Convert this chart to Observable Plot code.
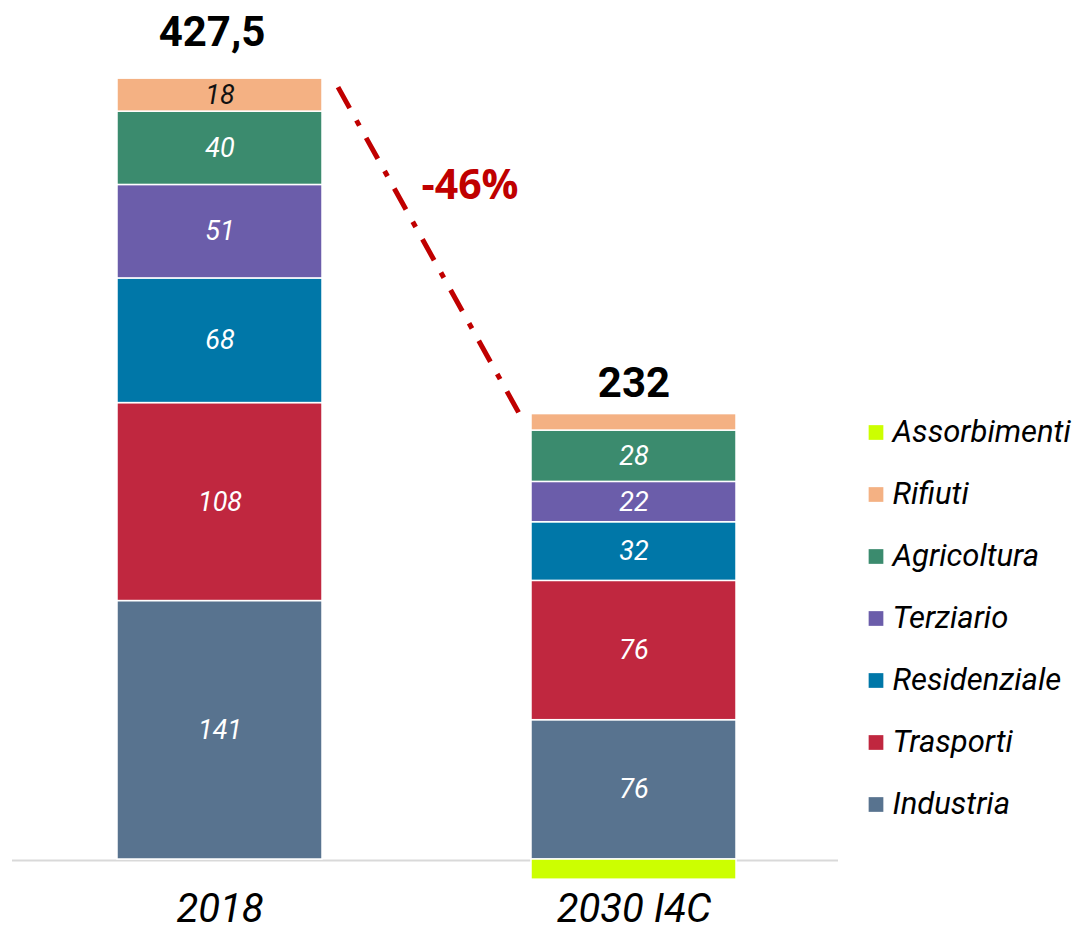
<!DOCTYPE html>
<html>
<head>
<meta charset="utf-8">
<script src="https://cdn.jsdelivr.net/npm/d3@7"></script>
<script src="https://cdn.jsdelivr.net/npm/@observablehq/plot@0.6"></script>
<style>
  html, body { margin: 0; padding: 0; background: white; }
  #wrap { position: relative; width: 1082px; height: 931px; font-family: Roboto, sans-serif; }
  #legend { position: absolute; left: 860px; top: 400px; }
</style>
</head>
<body>
<div id="wrap"><div id="legend"></div></div>
<script>
const years = ["2018", "2030 I4C"];
const sectors = ["Industria", "Trasporti", "Residenziale", "Terziario", "Agricoltura", "Rifiuti", "Assorbimenti"];
const colors = ["#58738F", "#C0273F", "#0077A8", "#6B5DAA", "#3B8B6E", "#F4B183", "#CCFF00"];
const values2018 = [141, 108, 68, 51, 40, 18, 0];
const values2030 = [76, 76, 32, 22, 28, 9, -11];
const labels2018 = ["141", "108", "68", "51", "40", "18", ""];
const labels2030 = ["76", "76", "32", "22", "28", "", ""];
const totalLabels = ["427,5", "232"];
const changeLabel = "-46%";

const rows = [];
[values2018, values2030].forEach((vals, yi) => {
  const labs = yi === 0 ? labels2018 : labels2030;
  vals.forEach((v, si) => {
    if (v !== 0) rows.push({year: years[yi], sector: sectors[si], value: v, label: labs[si]});
  });
});
const totals = years.map((y, i) => ({
  year: y,
  top: d3.sum(rows.filter(r => r.year === y && r.value > 0), r => r.value),
  label: totalLabels[i]
}));

const colorScale = {domain: sectors, range: colors};
const font = "Roboto, sans-serif";

const chart = Plot.plot({
  width: 1082,
  height: 931,
  marginTop: 0,
  marginLeft: 12,
  marginRight: 244,
  marginBottom: 51,
  x: {domain: years, range: [117, 736], paddingInner: 0.505, paddingOuter: 0, axis: null},
  y: {domain: [0, 400], range: [859, 859 - 733.2], axis: null},
  color: colorScale,
  style: {fontFamily: font, background: "white", overflow: "visible"},
  marks: [
    Plot.ruleY([0], {stroke: "#D9D9D9", strokeWidth: 2, dy: 1}),
    Plot.barY(rows, {x: "year", y: "value", fill: "sector", stroke: "white", strokeWidth: 1.5}),
    Plot.text(rows, Plot.stackY({
      x: "year", y: "value", z: "sector",
      text: d => d.sector === "Rifiuti" ? "" : d.label,
      fill: "white", fontSize: 27, fontStyle: "italic"
    })),
    Plot.text(rows, Plot.stackY({
      x: "year", y: "value", z: "sector",
      text: d => d.sector === "Rifiuti" ? d.label : "",
      fill: "#111", fontSize: 27, fontStyle: "italic"
    })),
    Plot.text(totals.slice(0, 1), {x: "year", y: "top", text: "label", lineAnchor: "bottom", dx: -8, dy: -33, fontSize: 42, fontWeight: "bold", fill: "black"}),
    Plot.text(totals.slice(1), {x: "year", y: "top", text: "label", lineAnchor: "bottom", dy: -17, fontSize: 42, fontWeight: "bold", fill: "black"}),
    Plot.link([{a: years[0], b: years[1], y1: totals[0].top, y2: totals[1].top}], {
      x1: "a", x2: "b", y1: "y1", y2: "y2",
      render(index, scales, values) {
        const bw = scales.x.bandwidth();
        const g = d3.create("svg:g");
        for (const i of index) {
          g.append("line")
            .attr("x1", values.x1[i] + bw + 16)
            .attr("y1", values.y1[i] + 9)
            .attr("x2", values.x2[i] - 9)
            .attr("y2", values.y2[i] + 5)
            .attr("stroke", "#C00000")
            .attr("stroke-width", 5)
            .attr("stroke-dasharray", "24,14,6,14");
        }
        return g.node();
      }
    }),
    Plot.text([changeLabel], {x: () => years[0], y: () => totals[0].top, text: d => d, dx: 250, dy: 120, lineAnchor: "bottom",
      fontSize: 41, fontWeight: "bold", fill: "#C00000", fontFamily: "'Open Sans', sans-serif"}),
    Plot.axisX({tickSize: 0, tickPadding: 13, fontSize: 40, fontStyle: "italic", label: null, fill: "black"})
  ]
});
document.getElementById("wrap").prepend(chart);

const legendOrder = sectors.slice().reverse();
const legend = Plot.plot({
  width: 222,
  height: 440,
  margin: 0,
  x: {domain: [0, 1], axis: null},
  y: {type: "point", domain: legendOrder, range: [29, 406], padding: 0, axis: null},
  color: colorScale,
  style: {fontFamily: font, background: "transparent", overflow: "visible"},
  marks: [
    Plot.dot(legendOrder, {y: d => d, frameAnchor: "left", dx: 15.5, symbol: "square", r: 8.3, fill: d => d}),
    Plot.text(legendOrder, {y: d => d, frameAnchor: "left", dx: 32, text: d => d, textAnchor: "start", fontSize: 31, fontStyle: "italic", fill: "black"})
  ]
});
document.getElementById("legend").append(legend);
</script>
</body>
</html>
